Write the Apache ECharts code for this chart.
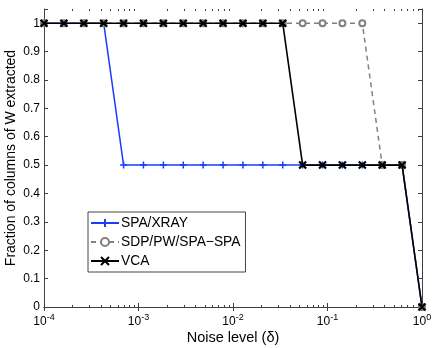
<!DOCTYPE html>
<html>
<head>
<meta charset="UTF-8">
<title>Fraction of columns extracted</title>
<style>
    body { margin: 0; background: #ffffff; }
    #main { width: 436px; height: 348px; }
</style>
<script src="https://cdn.jsdelivr.net/npm/echarts@6/dist/echarts.min.js"></script>
</head>
<body>
<div id="main"></div>
<script type="text/javascript">
    // noise levels (20 log-spaced values from 1e-4 to 1)
    var noise = [1e-4, 1.6238e-4, 2.6367e-4, 4.2813e-4, 6.9519e-4, 1.1288e-3, 1.8330e-3,
        2.9764e-3, 4.8329e-3, 7.8476e-3, 1.2743e-2, 2.0691e-2, 3.3598e-2, 5.4556e-2,
        8.8587e-2, 0.14384, 0.23357, 0.37927, 0.61585, 1];
    var spaXray = [1, 1, 1, 1, 0.5, 0.5, 0.5, 0.5, 0.5, 0.5, 0.5, 0.5, 0.5, 0.5, 0.5, 0.5, 0.5, 0.5, 0.5, 0];
    var sdpPw = [1, 1, 1, 1, 1, 1, 1, 1, 1, 1, 1, 1, 1, 1, 1, 1, 1, 0.5, 0.5, 0];
    var vca = [1, 1, 1, 1, 1, 1, 1, 1, 1, 1, 1, 1, 1, 0.5, 0.5, 0.5, 0.5, 0.5, 0.5, 0];
    var seriesNames = ['SPA/XRAY', 'SDP/PW/SPA\u2212SPA', 'VCA'];
    var decades = [1e-4, 1e-3, 1e-2, 1e-1];

    function pairs(ys) {
        var out = [];
        for (var i = 0; i < noise.length; i++) out.push([noise[i], ys[i]]);
        return out;
    }

    var font = 'Liberation Sans, Arial, Helvetica, sans-serif';
    var axisCol = '#404040';
    var plus = 'path://M0,-1L0,1M-1,0L1,0';
    var cross = 'path://M-1,-1L1,1M-1,1L1,-1';
    var gridTop = 9, gridBottom = 41;

    var chart = echarts.init(document.getElementById('main'));

    var xCommon = {
        type: 'log',
        logBase: 10,
        min: 1e-4,
        max: 1,
        axisLine: { show: true, lineStyle: { color: axisCol, width: 1 } },
        axisTick: { show: true, inside: true, length: 4, lineStyle: { color: axisCol } },
        splitLine: { show: false }
    };
    var yCommon = {
        type: 'value',
        min: 0,
        max: 1.05,
        interval: 0.1,
        axisLine: { show: true, lineStyle: { color: axisCol, width: 1 } },
        axisTick: { show: true, inside: true, length: 4, lineStyle: { color: axisCol } },
        splitLine: { show: false }
    };

    var option = {
        backgroundColor: '#ffffff',
        animation: false,
        textStyle: { fontFamily: font },
        grid: { left: 44, right: 14, top: gridTop, bottom: gridBottom, outerBoundsMode: 'none' },
        legend: {
            orient: 'vertical',
            left: 88,
            top: 212,
            data: seriesNames,
            itemWidth: 28,
            itemHeight: 10,
            itemGap: 5,
            padding: [4, 5, 4, 2],
            backgroundColor: '#ffffff',
            borderColor: '#444444',
            borderWidth: 1,
            borderRadius: 0,
            textStyle: { fontFamily: font, fontSize: 13.8, color: '#000000', padding: [0, 0, 0, -3] }
        },
        xAxis: [
            Object.assign({}, xCommon, {
                position: 'bottom',
                name: 'Noise level (\u03b4)',
                nameLocation: 'middle',
                nameGap: 23,
                nameMoveOverlap: false,
                nameTextStyle: { fontFamily: font, fontSize: 14.5, color: '#000000' },
                axisLabel: {
                    margin: 6,
                    formatter: function (v) {
                        return '{b|10}{s|' + Math.round(Math.log10(v)) + '}';
                    },
                    rich: {
                        b: { fontFamily: font, fontSize: 12, color: '#000000' },
                        s: { fontFamily: font, fontSize: 9, color: '#000000', verticalAlign: 'bottom', padding: [0, 0, 8, 0] }
                    }
                }
            }),
            Object.assign({}, xCommon, {
                position: 'top',
                axisLabel: { show: false }
            })
        ],
        yAxis: [
            Object.assign({}, yCommon, {
                position: 'left',
                name: 'Fraction of columns of W extracted',
                nameLocation: 'middle',
                nameGap: 26,
                nameMoveOverlap: false,
                nameTextStyle: { fontFamily: font, fontSize: 14, color: '#000000' },
                axisLabel: {
                    margin: 4,
                    fontFamily: font,
                    fontSize: 12,
                    color: '#000000',
                    formatter: function (v) { return v > 1.001 ? '' : String(Math.round(v * 10) / 10); }
                }
            }),
            Object.assign({}, yCommon, {
                position: 'right',
                axisLabel: { show: false }
            })
        ],
        series: [
            {
                name: seriesNames[0],
                type: 'line',
                data: pairs(spaXray),
                symbol: plus,
                symbolSize: 7,
                showAllSymbol: true,
                lineStyle: { color: '#1a3cff', width: 1.5 },
                itemStyle: { color: '#1a3cff', borderColor: '#1a3cff', borderWidth: 1.5 },
                z: 2
            },
            {
                name: seriesNames[1],
                type: 'line',
                data: pairs(sdpPw),
                symbol: 'emptyCircle',
                symbolSize: 6,
                showAllSymbol: true,
                lineStyle: { color: '#808080', width: 1.5, type: [5, 4] },
                itemStyle: { color: '#808080', borderColor: '#808080', borderWidth: 1.5 },
                z: 3
            },
            {
                name: seriesNames[2],
                type: 'line',
                data: pairs(vca),
                symbol: cross,
                symbolSize: 7,
                showAllSymbol: true,
                lineStyle: { color: '#000000', width: 1.6 },
                itemStyle: { color: '#000000', borderColor: '#000000', borderWidth: 2.2 },
                z: 4
            }
        ]
    };

    chart.setOption(option);

    // log minor ticks (2..9 in every decade) on top and bottom axes
    var h = chart.getHeight();
    var yTop = gridTop, yBot = h - gridBottom;
    var ticks = [];
    decades.forEach(function (d) {
        for (var k = 2; k <= 9; k++) {
            var px = Math.round(chart.convertToPixel({ xAxisIndex: 0 }, d * k)) + 0.5;
            ticks.push({ type: 'line', shape: { x1: px, y1: yBot, x2: px, y2: yBot - 2 },
                style: { stroke: axisCol, lineWidth: 1 }, silent: true, z: 1 });
            ticks.push({ type: 'line', shape: { x1: px, y1: yTop, x2: px, y2: yTop + 2 },
                style: { stroke: axisCol, lineWidth: 1 }, silent: true, z: 1 });
        }
    });
    chart.setOption({ graphic: ticks });
</script>
</body>
</html>
